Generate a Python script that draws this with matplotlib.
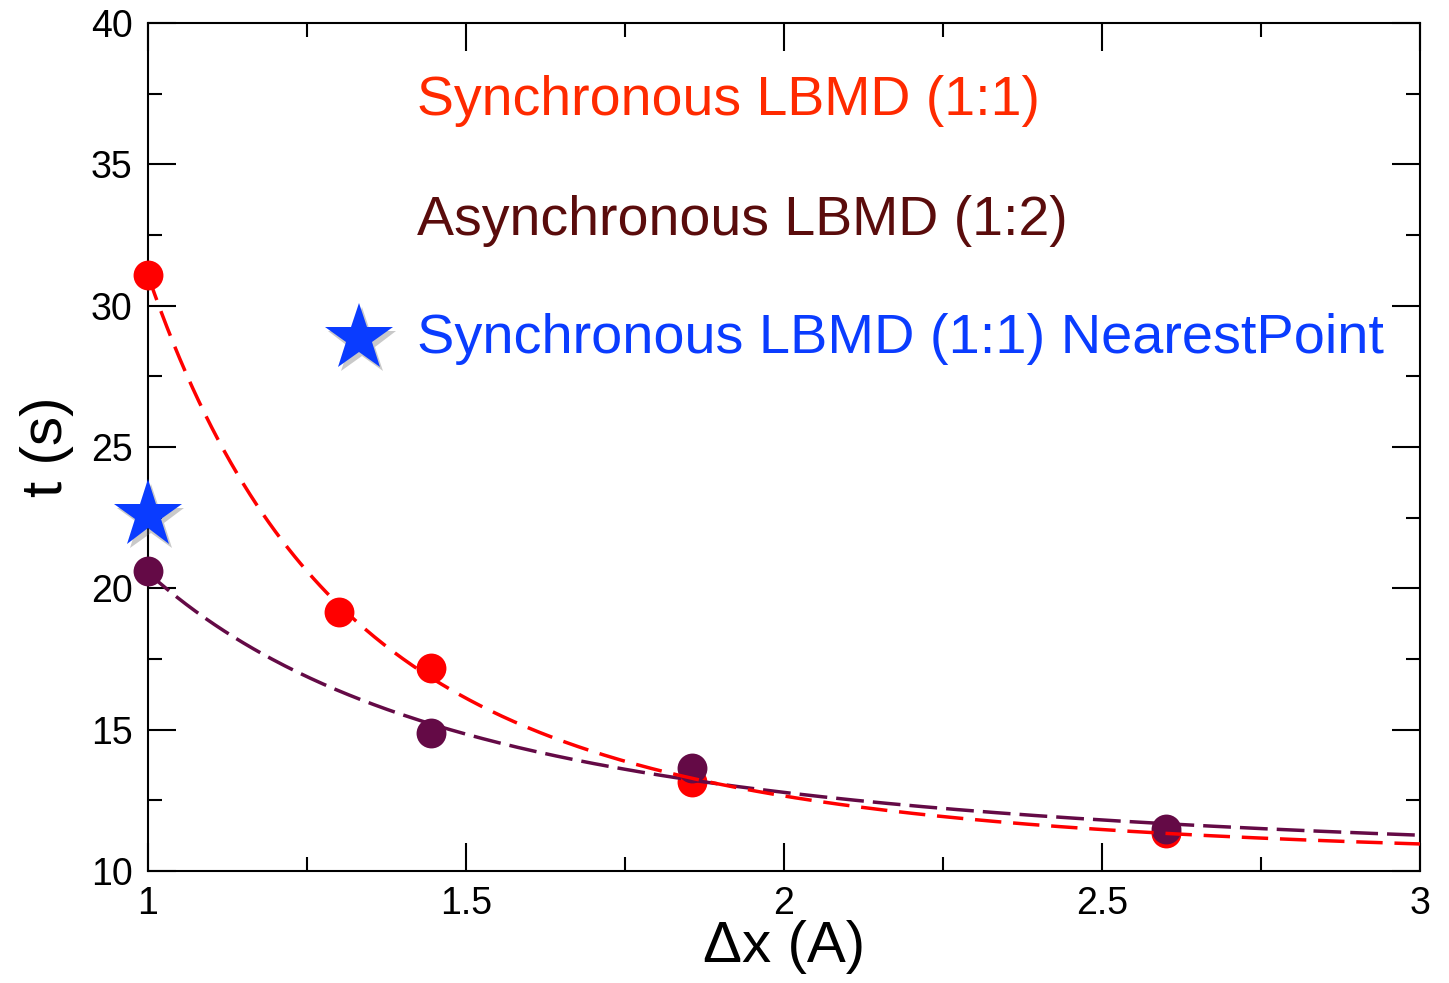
import numpy as np
import matplotlib
matplotlib.use("Agg")
import matplotlib.pyplot as plt
import matplotlib.patheffects as pe
from matplotlib.ticker import MultipleLocator

plt.rcParams['font.family'] = ['Liberation Sans', 'DejaVu Sans']
plt.rcParams['lines.scale_dashes'] = False

# Measured timings
dx_sync = np.array([1.0, 1.3, 1.445, 1.855, 2.6])
t_sync = np.array([31.1, 19.15, 17.2, 13.15, 11.35])

dx_async = np.array([1.0, 1.445, 1.855, 2.6])
t_async = np.array([20.6, 14.9, 13.65, 11.5])

dx_nearest = np.array([1.0])
t_nearest = np.array([22.6])

labels = ["Synchronous LBMD (1:1)",
          "Asynchronous LBMD (1:2)",
          "Synchronous LBMD (1:1) NearestPoint"]


def fit_power(x, y):
    """Least-squares fit of t = a + b * dx**(-n)."""
    best = None
    for n in np.linspace(0.3, 6.0, 1141):
        A = np.column_stack([np.ones_like(x), x ** -n])
        coef, *_ = np.linalg.lstsq(A, y, rcond=None)
        err = np.sum((A @ coef - y) ** 2)
        if best is None or err < best[0]:
            best = (err, coef[0], coef[1], n)
    return best[1:]


RED = '#ff0000'
PURPLE = '#640a46'
BLUE = '#0a3cff'

fig = plt.figure(figsize=(14.49, 9.83), dpi=100)
ax = fig.add_axes([0.1021, 0.1139, 0.8779, 0.8627])

xs = np.linspace(1.0, 3.0, 400)
a1, b1, n1 = fit_power(dx_sync, t_sync)
a2, b2, n2 = fit_power(dx_async, t_async)

ax.plot(dx_sync, t_sync, 'o', color=RED, ms=21.5, mec='none', clip_on=False, zorder=3)
ax.plot(dx_async, t_async, 'o', color=PURPLE, ms=21.5, mec='none', clip_on=False, zorder=4)
ax.plot(xs, a2 + b2 * xs ** -n2, color=PURPLE, lw=2.5, dashes=(20, 6.5), zorder=5)
ax.plot(xs, a1 + b1 * xs ** -n1, color=RED, lw=2.5, dashes=(19, 8.5), zorder=6)

shadow = [pe.SimplePatchShadow(offset=(2, -3), shadow_rgbFace='0.4', alpha=0.35), pe.Normal()]
ax.plot(dx_nearest, t_nearest, '*', color=BLUE, ms=51, mec='none', clip_on=False,
        zorder=7, path_effects=shadow)

# Legend drawn as coloured text
ax.plot([1.332], [28.85], '*', color=BLUE, ms=51, mec='none', zorder=7, path_effects=shadow)
ax.text(1.423, 36.74, labels[0], color='#ff2a00', fontsize=40, va='baseline', ha='left')
ax.text(1.423, 32.5, labels[1], color='#5a0c0c', fontsize=40, va='baseline', ha='left')
ax.text(1.423, 28.32, labels[2], color=BLUE, fontsize=40.2, va='baseline', ha='left')

ax.set_xlim(1, 3)
ax.set_ylim(10, 40)
ax.xaxis.set_major_locator(MultipleLocator(0.5))
ax.xaxis.set_minor_locator(MultipleLocator(0.25))
ax.yaxis.set_major_locator(MultipleLocator(5))
ax.yaxis.set_minor_locator(MultipleLocator(2.5))
ax.xaxis.set_major_formatter(plt.FuncFormatter(lambda v, p: f"{v:g}"))
ax.tick_params(which='both', direction='in', top=True, right=True, width=1.5,
               labelsize=27, pad=11, colors='black')
ax.tick_params(which='major', length=20)
ax.tick_params(which='minor', length=10)
for s in ax.spines.values():
    s.set_linewidth(1.5)

ax.set_xlabel("Δx (A)", fontsize=42, labelpad=-2)
ax.set_ylabel("t (s)", fontsize=42, labelpad=12)

fig.savefig("out.png", dpi=100)
